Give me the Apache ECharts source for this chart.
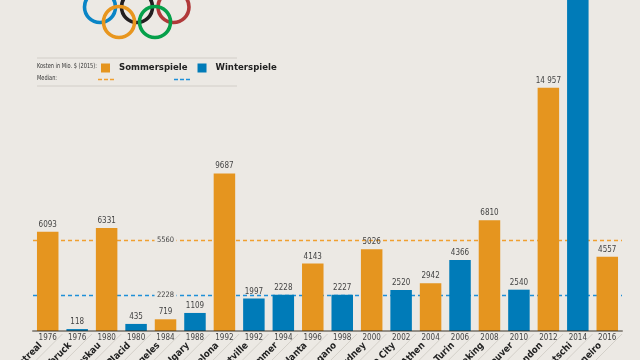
<!DOCTYPE html>
<html><head><meta charset="utf-8">
<script src="https://cdn.jsdelivr.net/npm/echarts@6/dist/echarts.min.js"></script>
<style>html,body{margin:0;padding:0;background:#ece9e4;}#c{width:640px;height:360px;}</style>
</head><body><div id="c"></div>
<script>
const cities = ['Montreal','Innsbruck','Moskau','Lake Placid','Los Angeles','Calgary','Barcelona','Albertville','Lillehammer','Atlanta','Nagano','Sydney','Salt Lake City','Athen','Turin','Peking','Vancouver','London','Sotschi','Rio de Janeiro'];
const years = ['1976','1976','1980','1980','1984','1988','1992','1992','1994','1996','1998','2000','2002','2004','2006','2008','2010','2012','2014','2016'];
const gameType = ['S','W','S','W','S','W','S','W','W','S','W','S','W','S','W','S','W','S','W','S'];
const costs = [6093,118,6331,435,719,1109,9687,1997,2228,4143,2227,5026,2520,2942,4366,6810,2540,14957,21890,4557];
const medianSummer = 5560;
const medianWinter = 2228;

const ORANGE = '#e5951f', BLUE = '#007bb8';
const MED_O = '#f0a030', MED_B = '#1e90d8';
const FONT = '"Liberation Sans Narrow","DejaVu Sans Condensed",sans-serif';
const summerData = costs.map((v,i)=> gameType[i]==='S' ? v : null);
const winterData = costs.map((v,i)=> gameType[i]==='W' ? v : null);
const fmt = v => { const n = v.value; if (n == null) return ''; return n >= 10000 ? String(n).replace(/(\d)(?=(\d{3})+$)/g,'$1 ') : String(n); };

const chart = echarts.init(document.getElementById('c'));
const valueLabel = {show:true, position:'top', distance:3, fontSize:8, color:'#444', fontFamily:FONT, formatter:fmt};

function rings(){
  const r = 15.5, lw = 3.6;
  const defs = [[100,7,'#0a85c6'],[137,7,'#231f20'],[173.5,7,'#b0393a'],[119,22,'#e8961e'],[155,22,'#06a04a']];
  return defs.map(d=>({type:'circle', shape:{cx:d[0], cy:d[1], r:r}, style:{fill:null, stroke:d[2], lineWidth:lw}, z:10}));
}
function medianMark(value, color){
  return {
    markLine:{silent:true, symbol:'none', z:1, label:{show:false},
      itemStyle:{color:color},
      lineStyle:{color:color, type:[4,3], width:1.3, opacity:1},
      emphasis:{disabled:true},
      data:[{yAxis:value, lineStyle:{color:color}}]},
    markPoint:{symbol:'rect', symbolSize:[22,9], z:1, silent:true,
      itemStyle:{color:'#ece9e4'},
      label:{show:true, position:'inside', fontSize:7.5, color:'#444', fontFamily:FONT, formatter:'{c}'},
      data:[{coord:['1984', value], value:value}]}
  };
}

chart.setOption({
  backgroundColor:'#ece9e4',
  animation:false,
  grid:{left:33, right:18, top:0, bottom:29, outerBoundsMode:'none', containLabel:false},
  legend:{
    left:101, top:63, padding:0, itemWidth:9, itemHeight:9, itemGap:10, icon:'rect',
    textStyle:{fontFamily:FONT, fontWeight:'bold', fontSize:9.5, color:'#222', padding:[0,0,0,4]},
    data:['Sommerspiele','Winterspiele']
  },
  graphic: rings().concat([
    {type:'line', shape:{x1:37,y1:58,x2:237,y2:58}, style:{stroke:'#d2cec8', lineWidth:1}},
    {type:'line', shape:{x1:37,y1:86,x2:237,y2:86}, style:{stroke:'#d2cec8', lineWidth:1}},
    {type:'text', x:37, y:63, scaleX:0.8, style:{text:'Kosten in Mio. $ (2015):', fontSize:7, fill:'#333', fontFamily:FONT}},
    {type:'text', x:37, y:75, scaleX:0.8, style:{text:'Median:', fontSize:7, fill:'#333', fontFamily:FONT}},
    {type:'line', shape:{x1:98,y1:79.5,x2:114,y2:79.5}, style:{stroke:MED_O, lineWidth:1.3, lineDash:[4,2]}},
    {type:'line', shape:{x1:174,y1:79.5,x2:190,y2:79.5}, style:{stroke:MED_B, lineWidth:1.3, lineDash:[4,2]}}
  ]),
  xAxis:[
    {type:'category', data:years, gridIndex:0, position:'bottom', z:5,
     axisLine:{show:true, lineStyle:{color:'rgba(40,30,20,0.45)', width:2}},
     axisTick:{show:false},
     axisLabel:{margin:3, fontSize:8, color:'#444', fontFamily:FONT, interval:0}},
    {type:'category', data:cities, gridIndex:0, position:'bottom', offset:0,
     axisLine:{show:false}, axisTick:{show:false},
     axisLabel:{margin:6, rotate:45, interval:0, fontSize:9.5, fontWeight:'bold', color:'#222', fontFamily:FONT, padding:[0,10,0,0]}}
  ],
  yAxis:{type:'value', min:0, max:20344, show:false, splitLine:{show:false}},
  series:[
    Object.assign({name:'Sommerspiele', type:'bar', stack:'all', data:summerData, barWidth:'73%',
     itemStyle:{color:ORANGE}, label:valueLabel}, medianMark(medianSummer, MED_O)),
    Object.assign({name:'Winterspiele', type:'bar', stack:'all', data:winterData, barWidth:'73%',
     itemStyle:{color:BLUE}, label:valueLabel}, medianMark(medianWinter, MED_B)),
    {name:'sep', type:'custom', data:cities.map((c,i)=>i), clip:false, silent:true, z:0,
     renderItem:function(params, api){
       const i = api.value(0);
       const p = api.coord([i, 0]);
       const half = api.size([1,0])[0]/2;
       const x = p[0] + half, y = p[1] + 3;
       return {type:'line', shape:{x1:x, y1:y, x2:x-40, y2:y+40}, style:{stroke:'#cdc9c2', lineWidth:0.8}};
     }, encode:{x:0, y:0}}
  ]
});
</script></body></html>
